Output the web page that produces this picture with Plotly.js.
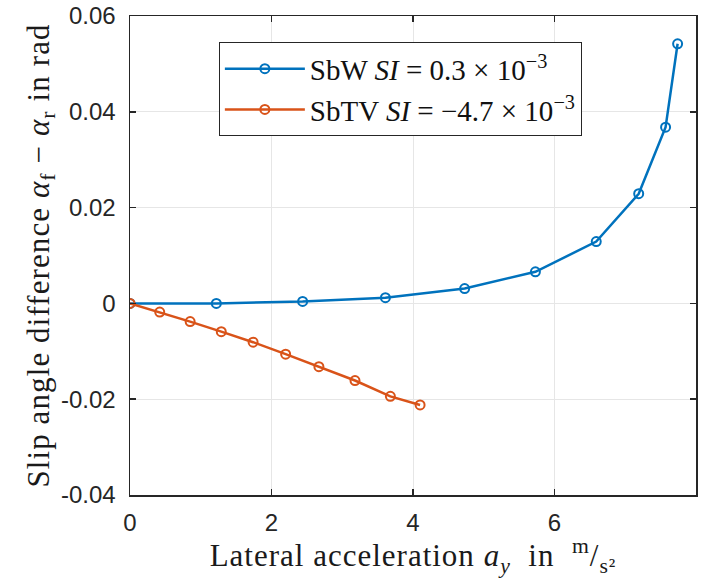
<!DOCTYPE html>
<html><head><meta charset="utf-8">
<script src="https://cdn.plot.ly/plotly-3.0.1.min.js"></script>
<style>body{margin:0;background:#fff}#c{width:702px;height:578px}</style>
</head><body><div id="c"></div>
<script>
const sbwX = [0, 1.22, 2.44, 3.61, 4.73, 5.73, 6.59, 7.19, 7.57, 7.74];
const sbwY = [0, 0.0000, 0.0004, 0.0012, 0.0031, 0.0066, 0.0129, 0.0229, 0.0368, 0.0542];
const sbtvX = [0, 0.42, 0.85, 1.29, 1.74, 2.20, 2.67, 3.18, 3.68, 4.10];
const sbtvY = [0, -0.0018, -0.0038, -0.0059, -0.0081, -0.0106, -0.0132, -0.0161, -0.0194, -0.0212];
const xTicks = [0, 2, 4, 6, 8];
const yTicks = [-0.04, -0.02, 0, 0.02, 0.04, 0.06];
const yTickText = ['-0.04', '-0.02', '0', '0.02', '0.04', '0.06'];
const names = ['SbW <i>SI</i> = 0.3 × 10<sup>−3</sup>', 'SbTV <i>SI</i> = −4.7 × 10<sup>−3</sup>'];

const serif = 'Liberation Serif, Times New Roman, serif';
const mk = c => ({symbol: 'circle-open', size: 9, color: c, line: {width: 2, color: c}});
const data = [
  {x: sbwX, y: sbwY, name: names[0], mode: 'lines+markers', line: {color: '#0072BD', width: 2.5}, marker: mk('#0072BD')},
  {x: sbtvX, y: sbtvY, name: names[1], mode: 'lines+markers', line: {color: '#D95319', width: 2.5}, marker: mk('#D95319')}
];
const axBase = {
  showline: true, mirror: 'ticks', linecolor: '#262626', linewidth: 1.5,
  ticks: 'inside', ticklen: 6, tickcolor: '#262626', tickwidth: 1.5,
  showgrid: true, gridcolor: '#e6e6e6', gridwidth: 1, zeroline: false,
  tickfont: {family: 'Liberation Sans, Arial, sans-serif', size: 24, color: '#262626'}
};
const layout = {
  width: 702, height: 578,
  margin: {l: 130, r: 6, t: 16, b: 83},
  paper_bgcolor: '#fff', plot_bgcolor: '#fff',
  showlegend: true,
  legend: {x: 0.157, y: 0.945, xanchor: 'left', yanchor: 'top', bgcolor: '#fff',
    bordercolor: '#262626', borderwidth: 1, itemwidth: 80,
    font: {family: serif, size: 29, color: '#111'},
    tracegroupgap: 0},
  xaxis: Object.assign({}, axBase, {range: [0, 8], tickvals: xTicks, ticktext: xTicks.map(String),
    ticklabelstandoff: 6,
    title: {text: 'Lateral acceleration <i>a<sub>y</sub></i>  in  <sup>m</sup>/<sub>s²</sub>', standoff: 4,
      font: {family: serif, size: 31, color: '#1a1a1a'}}}),
  yaxis: Object.assign({}, axBase, {range: [-0.04, 0.06], tickvals: yTicks, ticktext: yTickText,
    ticklabelstandoff: 8,
    title: {text: 'Slip angle difference <i>α</i><sub>f</sub> − <i>α</i><sub>r</sub> in rad', standoff: 2,
      font: {family: serif, size: 31, color: '#1a1a1a'}}})
};
Plotly.newPlot('c', data, layout, {displayModeBar: false, staticPlot: true}).then(() => {
  document.querySelectorAll('.xtitle').forEach(e => { e.style.letterSpacing = '1px'; });
  document.querySelectorAll('.ytitle').forEach(e => { e.style.letterSpacing = '1.1px'; });
});
</script></body></html>
